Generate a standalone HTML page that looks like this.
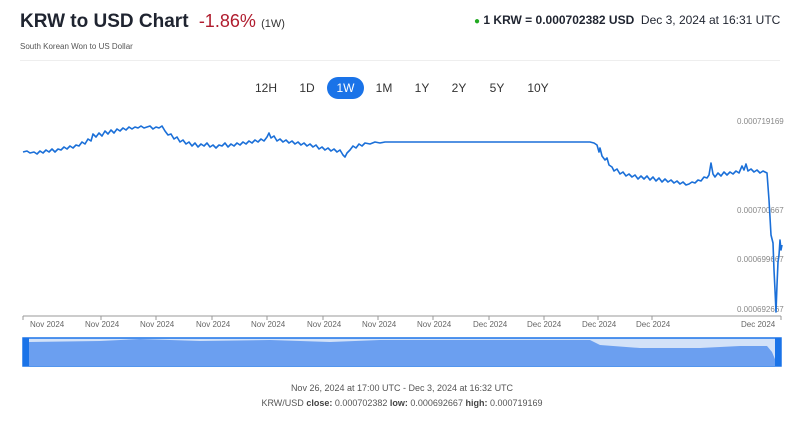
<!DOCTYPE html>
<html><head><style>
body{margin:0;width:800px;height:426px;background:#fff;font-family:"Liberation Sans",sans-serif;position:relative;overflow:hidden}
.a{position:absolute;white-space:nowrap}
.tab{position:absolute;top:77px;height:22px;line-height:22px;font-size:12px;color:#333;text-align:center}
</style></head><body>
<div class="a" style="left:20px;top:11px;font-size:19px;color:#1f2430;font-weight:600">KRW to USD Chart <span style="color:#b01c2e;font-weight:400;font-size:18px">&nbsp;-1.86%</span> <span style="font-size:11px;color:#333;font-weight:400">(1W)</span></div>
<div class="a" style="left:20px;top:42px;font-size:8px;color:#555">South Korean Won to US Dollar</div>
<div class="a" style="left:474px;top:13px;font-size:12px;color:#1f2430"><span style="color:#2a2;font-size:10px">●</span> <b>1 KRW = 0.000702382 USD</b>&nbsp; Dec 3, 2024 at 16:31 UTC</div>
<div style="position:absolute;left:20px;top:60px;width:760px;height:1px;background:#eee"></div>
<div class="tab" style="left:253px;width:26px">12H</div>
<div class="tab" style="left:294px;width:26px">1D</div>
<div class="tab" style="left:327px;width:37px;background:#1a73e8;color:#fff;border-radius:11px">1W</div>
<div class="tab" style="left:371px;width:26px">1M</div>
<div class="tab" style="left:409px;width:26px">1Y</div>
<div class="tab" style="left:446px;width:26px">2Y</div>
<div class="tab" style="left:484px;width:26px">5Y</div>
<div class="tab" style="left:525px;width:26px">10Y</div>
<svg class="a" style="left:0;top:0" width="800" height="426">
<g font-family="Liberation Sans" font-size="8" fill="#888">
<text x="737" y="124">0.000719169</text>
<text x="737" y="213">0.000700667</text>
<text x="737" y="262">0.000699667</text>
<text x="737" y="312">0.000692667</text>
</g>
<line x1="23" y1="316" x2="781" y2="316" stroke="#999"/>
<g stroke="#999"><line x1="23" y1="316" x2="23" y2="320"/><line x1="101" y1="316" x2="101" y2="320"/><line x1="156" y1="316" x2="156" y2="320"/><line x1="212" y1="316" x2="212" y2="320"/><line x1="267" y1="316" x2="267" y2="320"/><line x1="323" y1="316" x2="323" y2="320"/><line x1="378" y1="316" x2="378" y2="320"/><line x1="433" y1="316" x2="433" y2="320"/><line x1="489" y1="316" x2="489" y2="320"/><line x1="544" y1="316" x2="544" y2="320"/><line x1="598" y1="316" x2="598" y2="320"/><line x1="652" y1="316" x2="652" y2="320"/><line x1="781" y1="316" x2="781" y2="320"/></g>
<g font-family="Liberation Sans" font-size="8" fill="#666">
<text x="30" y="327">Nov 2024</text><text x="85" y="327">Nov 2024</text><text x="140" y="327">Nov 2024</text><text x="196" y="327">Nov 2024</text><text x="251" y="327">Nov 2024</text><text x="307" y="327">Nov 2024</text><text x="362" y="327">Nov 2024</text><text x="417" y="327">Nov 2024</text><text x="473" y="327">Dec 2024</text><text x="527" y="327">Dec 2024</text><text x="582" y="327">Dec 2024</text><text x="636" y="327">Dec 2024</text><text x="741" y="327">Dec 2024</text>
</g>
<polyline fill="none" stroke="#1a6fd8" stroke-width="1.6" stroke-linejoin="round" points="23,152 27,151 30,153 34,152 37,154 40,151 43,153 46,150 49,152 52,149 55,152 58,149 61,150 64,147 67,149 70,146 73,148 76,145 79,146 82,142 85,144 88,139 91,141 93,134 96,137 99,133 102,136 105,131 108,134 111,130 114,133 117,129 120,131 123,128 126,130 129,127 132,129 135,127 138,128 141,126 144,128 147,127 150,126 153,129 156,127 159,128 162,126 165,131 168,135 171,134 174,139 177,137 180,142 183,140 186,144 189,142 192,146 195,143 198,147 201,144 204,146 207,143 210,147 213,145 216,148 219,145 222,146 225,143 228,147 231,144 234,146 237,143 240,145 243,142 246,144 249,141 252,143 255,140 258,142 261,139 264,141 267,137 269,133 271,138 274,136 277,141 280,139 283,142 286,140 289,143 292,141 295,144 298,142 301,145 304,143 307,146 310,144 313,147 316,145 319,149 322,147 325,150 328,148 331,151 334,149 337,152 340,150 343,155 345,157 347,153 350,150 353,146 356,148 359,144 362,146 365,143 370,144 375,142 380,143 385,142 390,142 590,142 594,143 597,145 599,152 600,148 602,156 605,160 607,158 609,165 612,167 614,171 617,169 620,174 623,172 626,176 629,174 632,177 635,175 638,179 641,176 644,179 647,176 650,180 653,177 656,181 659,178 662,182 665,179 668,182 671,180 674,183 677,181 680,184 683,182 686,185 689,184 692,182 695,183 698,180 701,181 704,177 707,178 709,175 711,163 713,174 715,177 718,173 721,176 724,172 727,175 730,172 733,174 736,171 739,173 742,166 744,170 746,164 748,171 751,169 754,172 757,170 760,173 763,171 767,173 769,200 771,235 773,243 774,270 775,290 776,312 777,285 778,262 779,255 780,240 781,250 782,245"/>
<rect x="23" y="338" width="758" height="28" fill="#d3e2f8" stroke="#1a73e8" stroke-width="1.5"/>
<polygon fill="#6b9ff0" points="29,342 100,341 140,339 200,341 270,340 330,342 380,340 590,340 600,345 640,348 700,348 740,346 767,346 772,352 777,364 779,366 29,366"/>
<rect x="23" y="338" width="6" height="28" fill="#1a73e8"/><rect x="775" y="338" width="6" height="28" fill="#1a73e8"/>
<g font-family="Liberation Sans" font-size="9" fill="#555" text-anchor="middle">
<text x="402" y="391">Nov 26, 2024 at 17:00 UTC - Dec 3, 2024 at 16:32 UTC</text>
<text x="402" y="406">KRW/USD <tspan font-weight="bold" fill="#444">close:</tspan> 0.000702382 <tspan font-weight="bold" fill="#444">low:</tspan> 0.000692667 <tspan font-weight="bold" fill="#444">high:</tspan> 0.000719169</text>
</g>
</svg>
</body></html>
